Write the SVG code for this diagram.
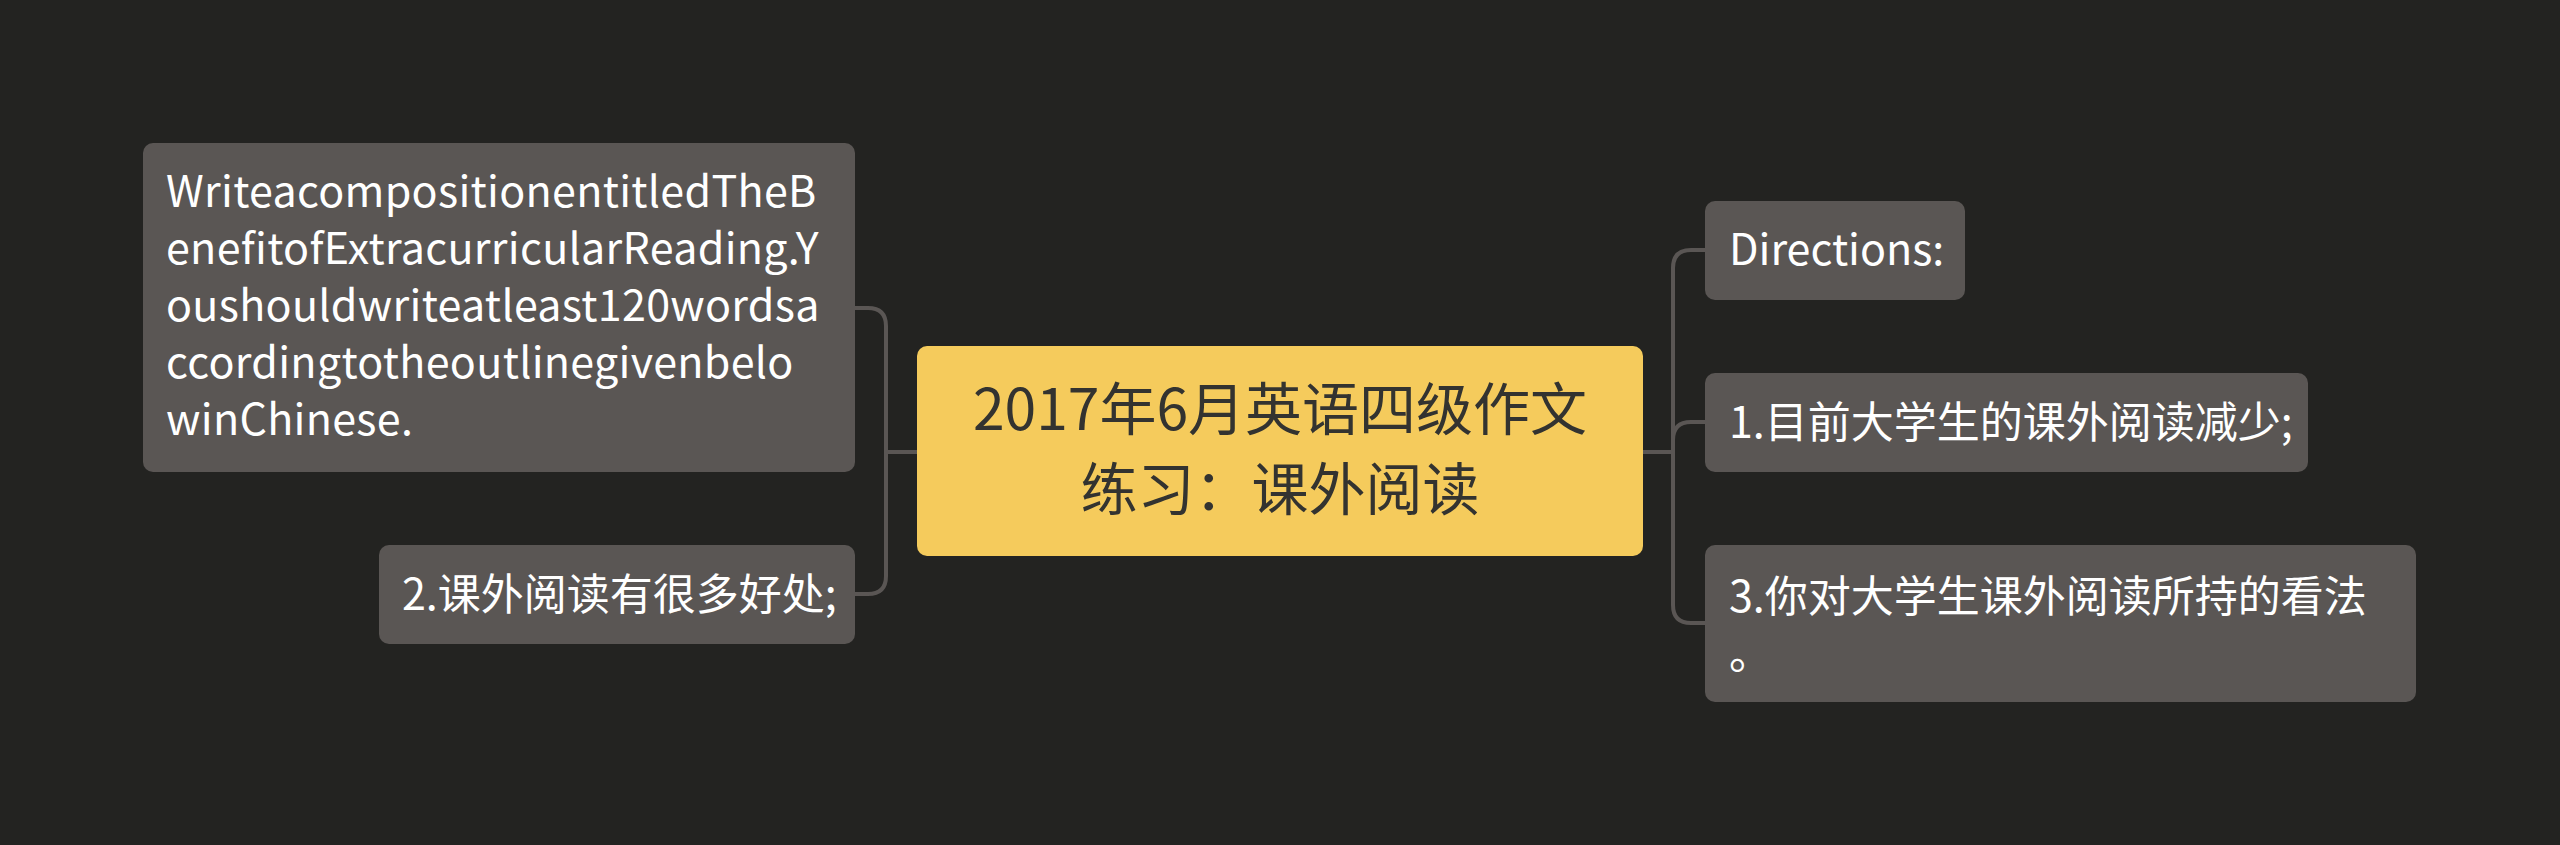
<svg xmlns="http://www.w3.org/2000/svg" width="2560" height="845" viewBox="0 0 2560 845">
<style>
.bg{fill:#232321}
.node{fill:#5a5654}
.root{fill:#f5cb5c}
.t{font-family:"Noto Sans CJK SC","Noto Sans",sans-serif;font-size:43px;fill:#ffffff}
.en{letter-spacing:0.3px}
.rt{font-family:"Noto Sans CJK SC","Noto Sans",sans-serif;font-size:57px;fill:#333330;text-anchor:middle}
.c{fill:none;stroke:#5a5654;stroke-width:4}
</style>
<rect class="bg" x="0" y="0" width="2560" height="845"/>
<g id="connectors">
<path class="c" d="M917,452 H886"/>
<path class="c" d="M855,308 H868 Q886,308 886,326 V576 Q886,594 868,594 H855"/>
<path class="c" d="M1643,452 H1673"/>
<path class="c" d="M1705,250 H1691 Q1673,250 1673,268 V605 Q1673,623 1691,623 H1705"/>
<path class="c" d="M1673,440 Q1673,422 1691,422 H1705"/>
</g>
<g id="root">
<rect class="root" x="917" y="346" width="726" height="210" rx="10"/>
<text class="rt" x="1280" y="430">2017年6月英语四级作文</text>
<text class="rt" x="1280" y="510">练习：课外阅读</text>
</g>
<g id="node-directions-text">
<rect class="node" x="143" y="143" width="712" height="329" rx="10"/>
<text class="t en" x="166" y="207">WriteacompositionentitledTheB</text>
<text class="t en" x="166" y="264">enefitofExtracurricularReading.Y</text>
<text class="t en" x="166" y="321">oushouldwriteatleast120wordsa</text>
<text class="t en" x="166" y="378">ccordingtotheoutlinegivenbelo</text>
<text class="t en" x="166" y="435">winChinese.</text>
</g>
<g id="node-2">
<rect class="node" x="379" y="545" width="476" height="99" rx="10"/>
<text class="t" x="402" y="610">2.课外阅读有很多好处;</text>
</g>
<g id="node-directions">
<rect class="node" x="1705" y="201" width="260" height="99" rx="10"/>
<text class="t" x="1729" y="265">Directions:</text>
</g>
<g id="node-1">
<rect class="node" x="1705" y="373" width="603" height="99" rx="10"/>
<text class="t" x="1729" y="438">1.目前大学生的课外阅读减少;</text>
</g>
<g id="node-3">
<rect class="node" x="1705" y="545" width="711" height="157" rx="10"/>
<text class="t" x="1729" y="612">3.你对大学生课外阅读所持的看法</text>
<text class="t" x="1729" y="669">。</text>
</g>
</svg>
